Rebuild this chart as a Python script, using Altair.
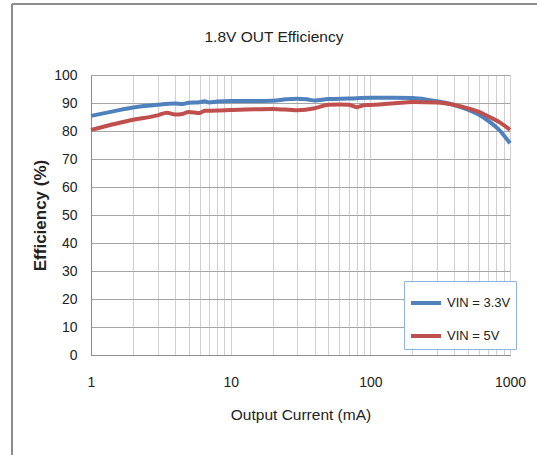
import altair as alt
import pandas as pd

# Output current (mA) and efficiency (%) for each input voltage
current_33 = [1, 1.5, 2, 3, 4, 4.5, 5, 6, 6.5, 7, 8, 10, 15, 20, 25, 30, 35, 40, 50, 70,
              100, 150, 200, 250, 300, 400, 500, 600, 700, 850, 1000]
eff_33 = [85.4, 87.2, 88.4, 89.4, 89.8, 89.6, 90.1, 90.3, 90.6, 90.2, 90.5, 90.7, 90.7, 90.8,
          91.3, 91.5, 91.3, 90.9, 91.4, 91.6, 91.9, 91.9, 91.8, 91.3, 90.6, 89.3, 87.6, 85.8,
          83.6, 80.0, 75.6]

current_5 = [1, 1.5, 2, 3, 3.5, 4, 4.5, 5, 6, 6.5, 8, 10, 15, 20, 30, 40, 50, 60, 70, 80, 90,
             100, 150, 200, 300, 400, 500, 600, 700, 850, 1000]
eff_5 = [80.4, 82.6, 84.0, 85.6, 86.5, 85.9, 86.1, 86.8, 86.4, 87.2, 87.3, 87.5, 87.8, 87.9,
         87.4, 88.1, 89.4, 89.5, 89.4, 88.5, 89.2, 89.3, 89.9, 90.4, 90.2, 89.3, 88.1, 86.8,
         85.2, 83.0, 80.4]

series_names = ["VIN = 3.3V", "VIN = 5V"]
series_colors = ["#4f81bd", "#c0504d"]

x_grid = [m * 10 ** e for e in range(3) for m in range(1, 10)] + [1000]
y_ticks = list(range(0, 101, 10))
chart_title = "1.8V OUT Efficiency"

df = pd.concat([
    pd.DataFrame({"current": current_33, "eff": eff_33, "series": series_names[0], "order": 0}),
    pd.DataFrame({"current": current_5, "eff": eff_5, "series": series_names[1], "order": 1}),
])

FONT = "Liberation Sans, Arial, sans-serif"
TEXT = "#222222"

lines = alt.Chart(df).mark_line(strokeWidth=4, interpolate="monotone").encode(
    x=alt.X("current:Q",
            scale=alt.Scale(type="log", domain=[1, 1000], nice=False),
            axis=alt.Axis(values=x_grid, title="Output Current (mA)",
                          labelExpr="indexof([1,10,100,1000], datum.value) >= 0 ? format(datum.value, 'd') : ''",
                          labelOverlap=False, labelFlush=False, ticks=False,
                          labelPadding=20, titlePadding=18,
                          gridColor="#d0d0d0", domainColor="#8c8c8c")),
    y=alt.Y("eff:Q",
            scale=alt.Scale(domain=[0, 100], nice=False),
            axis=alt.Axis(values=y_ticks, title="Efficiency (%)", ticks=False,
                          labelPadding=14, titlePadding=4, titleFontWeight="bold",
                          titleFontSize=17,
                          gridColor="#a6a6a6", domainColor="#8c8c8c")),
    color=alt.Color("series:N",
                    scale=alt.Scale(domain=series_names, range=series_colors),
                    legend=alt.Legend(orient="none", legendX=313, legendY=206, title=None,
                                      symbolType="stroke", symbolStrokeWidth=4, symbolSize=900,
                                      labelFontSize=13, labelFont=FONT, labelColor=TEXT,
                                      labelOffset=4, padding=5, rowPadding=8,
                                      strokeColor="#8eb4e3", fillColor="white")),
    order=alt.Order("order:Q"),
    detail="series:N",
)

one_row = pd.DataFrame({"k": [0]})

# Chart title, placed above the plot area
title = alt.Chart(one_row).mark_text(
    text=chart_title, font=FONT, fontSize=15.5, color=TEXT, align="center", baseline="alphabetic"
).encode(x=alt.value(183), y=alt.value(-33))

# Outer frame around the chart (top and left edges)
frame_top = alt.Chart(one_row).mark_rule(color="#8c8c8c", strokeWidth=2).encode(
    x=alt.value(-79), x2=alt.value(460), y=alt.value(-71))
frame_left = alt.Chart(one_row).mark_rule(color="#8c8c8c", strokeWidth=2).encode(
    x=alt.value(-79), y=alt.value(-71), y2=alt.value(390))

chart = alt.layer(lines, title, frame_top, frame_left).properties(
    width=419, height=280,
    padding={"left": 91, "top": 75, "right": 27, "bottom": 100},
    autosize=alt.AutoSizeParams(type="none"),
    background="white",
).configure_axis(
    labelFont=FONT, labelFontSize=14, labelColor=TEXT,
    titleFont=FONT, titleFontSize=15.5, titleColor=TEXT, titleFontWeight="normal",
    gridWidth=1,
).configure_view(stroke=None)

chart.save("out.html", embed_options={"renderer": "svg", "actions": False})
